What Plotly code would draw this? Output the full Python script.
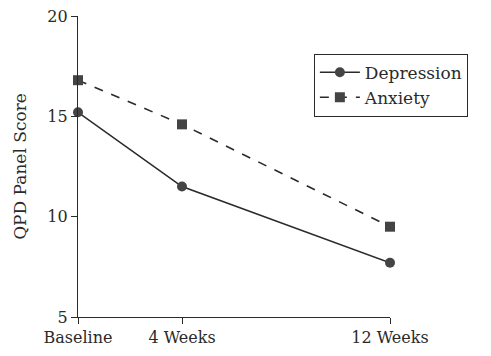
import plotly.graph_objects as go

weeks = [0, 4, 12]
tick_labels = ["Baseline", "4 Weeks", "12 Weeks"]
depression = [15.2, 11.5, 7.7]
anxiety = [16.8, 14.6, 9.5]

FONT = "DejaVu Serif"
INK = "#2a2a2a"

fig = go.Figure()
fig.add_trace(go.Scatter(
    x=weeks, y=depression, name="Depression", mode="lines+markers",
    line=dict(color=INK, width=1.6),
    marker=dict(symbol="circle", size=10, color="#444444"),
    cliponaxis=False,
))
fig.add_trace(go.Scatter(
    x=weeks, y=anxiety, name="Anxiety", mode="lines+markers",
    line=dict(color=INK, width=1.6, dash="dash"),
    marker=dict(symbol="square", size=10, color="#444444"),
    cliponaxis=False,
))

fig.update_layout(
    width=491, height=356,
    margin=dict(l=70, r=109, t=8, b=47, autoexpand=False),
    paper_bgcolor="white", plot_bgcolor="white",
    font=dict(family=FONT, size=16, color=INK),
    showlegend=True,
    legend=dict(
        x=0.756, y=0.875, xanchor="left", yanchor="top",
        bordercolor=INK, borderwidth=1, bgcolor="white",
        font=dict(family=FONT, size=17, color=INK),
        tracegroupgap=0, itemwidth=40,
    ),
    xaxis=dict(
        range=[0, 12], tickvals=weeks, ticktext=tick_labels,
        showline=True, linecolor=INK, linewidth=1.3,
        ticks="outside", ticklen=6, tickcolor=INK, tickwidth=1.3,
        showgrid=False, zeroline=False, automargin=False,
        ticklabeloverflow="allow",
    ),
    yaxis=dict(
        range=[5, 20], tickvals=[5, 10, 15, 20],
        showline=True, linecolor=INK, linewidth=1.3,
        ticks="outside", ticklen=6, tickcolor=INK, tickwidth=1.3,
        showgrid=False, zeroline=False, automargin=False,
        ticklabeloverflow="allow",
        title=dict(text="QPD Panel Score", font=dict(family=FONT, size=17, color=INK), standoff=16),
    ),
)

fig.write_html("out.html")
